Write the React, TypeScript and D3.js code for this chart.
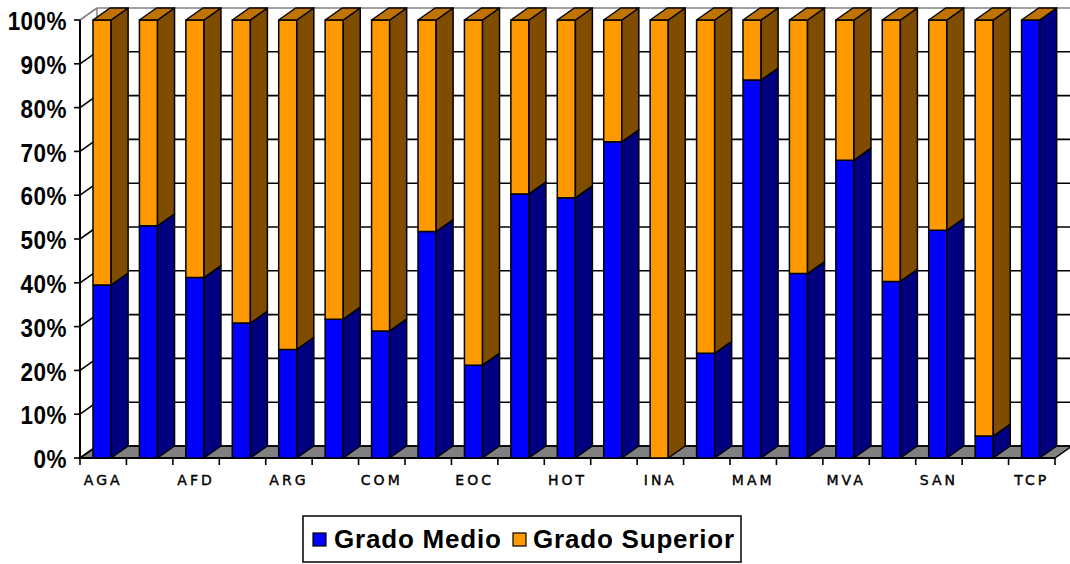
import React from 'react';
import * as d3 from 'd3';

const CATEGORIES = [
  'AGA', 'MAP', 'AFD', 'ADM', 'ARG', 'CIS', 'COM', 'ELE', 'EOC', 'FME', 'HOT',
  'IMP', 'INA', 'IFC', 'MAM', 'MSP', 'MVA', 'QUI', 'SAN', 'SSC', 'TCP',
];
// only every other category gets its label printed
const SHOWN_LABELS = ['AGA', 'AFD', 'ARG', 'COM', 'EOC', 'HOT', 'INA', 'MAM', 'MVA', 'SAN', 'TCP'];

const GRADO_MEDIO = [
  39.5, 53, 41.2, 30.8, 24.8, 31.7, 29, 51.7, 21.2, 60.3, 59.4,
  72.2, 0, 23.9, 86.3, 42.1, 68, 40.3, 52, 5, 100,
];
const GRADO_SUPERIOR = [
  60.5, 47, 58.8, 69.2, 75.2, 68.3, 71, 48.3, 78.8, 39.7, 40.6,
  27.8, 100, 76.1, 13.7, 57.9, 32, 59.7, 48, 95, 0,
];

const Y_TICKS = [0, 10, 20, 30, 40, 50, 60, 70, 80, 90, 100];
const SERIES = ['Grado Medio', 'Grado Superior'];

const W = 1070;
const H = 564;
const DX = 17;
const DY = -12;
const FONT = '"Liberation Sans", Arial, sans-serif';

const poly = (pts) => 'M' + pts.map(p => p.join(',')).join('L') + 'Z';

function App() {
  const x = d3.scaleBand().domain(CATEGORIES).range([80, 1055]).padding(0);
  const y = d3.scaleLinear().domain([0, 100]).range([458, 20]);
  const bw = x.bandwidth();
  const x0 = 80;
  const x1 = 1055;

  const grid = Y_TICKS.map(v => {
    const yy = y(v);
    const col = v === 100 ? '#808080' : '#000';
    return (
      <g key={'g' + v}>
        <line x1={x0} y1={yy} x2={x0 + DX} y2={yy + DY} stroke={col} strokeWidth={1.6} />
        <line x1={x0 + DX} y1={yy + DY} x2={x1 + DX} y2={yy + DY} stroke={col} strokeWidth={1.6} />
        <line x1={x0 - 6} y1={yy} x2={x0} y2={yy} stroke="#000" strokeWidth={1.6} />
        <text
          transform={`translate(67,${yy + 1}) scale(0.9,1.05)`}
          textAnchor="end"
          dominantBaseline="central"
          fontFamily={FONT}
          fontWeight="bold"
          fontSize={25}
          letterSpacing={0.5}
          fill="#000"
        >
          {v}%
        </text>
      </g>
    );
  });

  const bars = CATEGORIES.map((c, i) => {
    const xl = x(c) + bw * 0.28;
    const xr = xl + bw * 0.39;
    const gm = GRADO_MEDIO[i];
    const gs = GRADO_SUPERIOR[i];
    const yb = y(0);
    const ym = y(gm);
    const yt = y(gm + gs);
    const side = (ya, yb2) => poly([[xr, ya], [xr + DX, ya + DY], [xr + DX, yb2 + DY], [xr, yb2]]);
    return (
      <g key={'b' + c} stroke="#000" strokeWidth={1.5} strokeLinejoin="round">
        {gm > 0 && <>
          <rect x={xl} y={ym} width={xr - xl} height={yb - ym} fill="#0000FF" />
          <path d={side(yb, ym)} fill="#000080" />
        </>}
        {gs > 0 && <>
          <rect x={xl} y={yt} width={xr - xl} height={ym - yt} fill="#FF9900" />
          <path d={side(ym, yt)} fill="#7F4C00" />
        </>}
        <path d={poly([[xl, yt], [xr, yt], [xr + DX, yt + DY], [xl + DX, yt + DY]])} fill="#BF7300" />
      </g>
    );
  });

  const ticks = d3.range(CATEGORIES.length + 1).map(i => {
    const xx = x0 + bw * i;
    return <line key={'t' + i} x1={xx} y1={458} x2={xx} y2={465} stroke="#000" strokeWidth={1.6} />;
  });

  const labels = SHOWN_LABELS.map(c => (
    <text
      key={'l' + c}
      x={x(c) + bw / 2}
      y={485}
      textAnchor="middle"
      fontFamily='"DejaVu Sans", Verdana, sans-serif'
      fontSize={14}
      letterSpacing={3}
      stroke="#000"
      strokeWidth={0.4}
      fill="#000"
    >
      {c}
    </text>
  ));

  return (
    <div style={{ position: 'absolute', left: 0, top: 0 }}>
      <svg width={W} height={H} style={{ display: 'block', background: '#fff' }}>
        <path
          d={poly([[x0, 458], [x1, 458], [x1 + DX, 458 + DY], [x0 + DX, 458 + DY]])}
          fill="#808080"
          stroke="#000"
          strokeWidth={1.5}
        />
        <line x1={x0 + DX} y1={y(100) + DY} x2={x0 + DX} y2={458 + DY} stroke="#808080" strokeWidth={1.5} />
        {grid}
        <line x1={x0} y1={y(100)} x2={x0} y2={458} stroke="#000" strokeWidth={2} />
        <line x1={x0} y1={458} x2={x1} y2={458} stroke="#000" strokeWidth={2} />
        {ticks}
        {bars}
        {labels}
        <g>
          <rect x={303} y={516} width={438} height={46} fill="#fff" stroke="#000" strokeWidth={1.5} />
          <rect x={313} y={533} width={13} height={13} fill="#0000FF" stroke="#000" strokeWidth={1.2} />
          <text x={334} y={548} fontFamily={FONT} fontWeight="bold" fontSize={26} letterSpacing={0.8} fill="#000">{SERIES[0]}</text>
          <rect x={513} y={533} width={13} height={13} fill="#FF9900" stroke="#000" strokeWidth={1.2} />
          <text x={533} y={548} fontFamily={FONT} fontWeight="bold" fontSize={26} letterSpacing={0.8} fill="#000">{SERIES[1]}</text>
        </g>
      </svg>
    </div>
  );
}

export default App;
